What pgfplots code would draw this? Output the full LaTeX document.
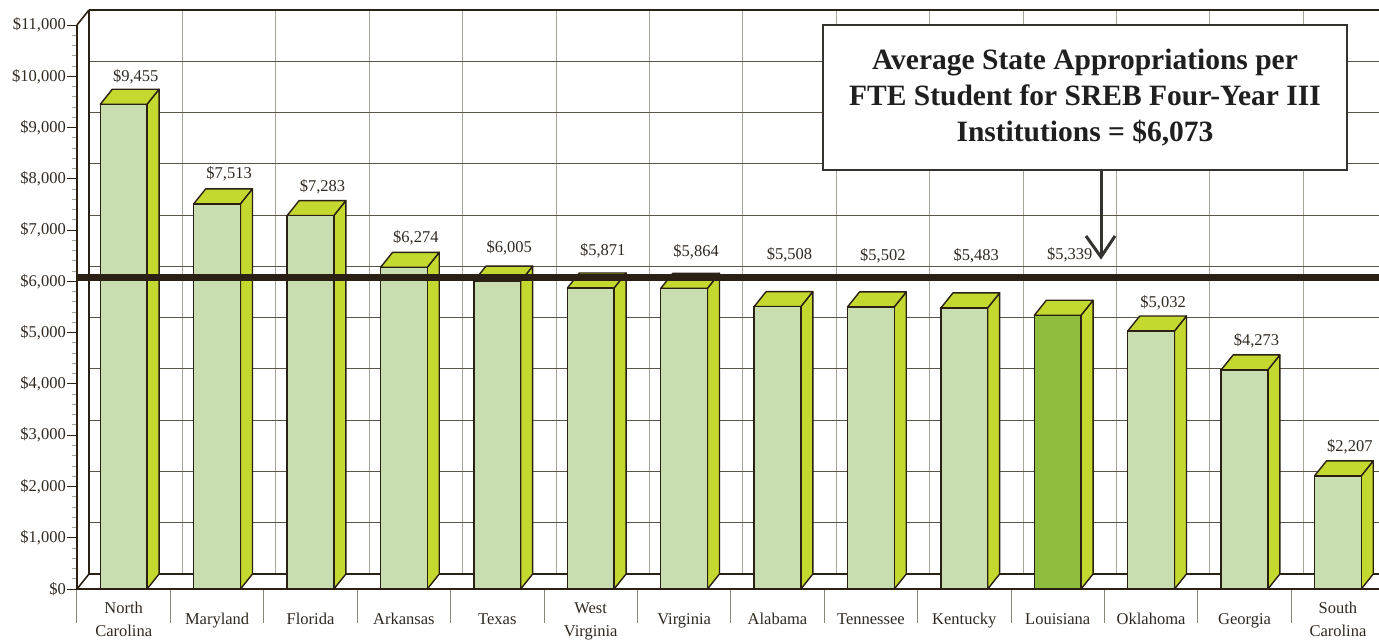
\documentclass[border=0pt]{standalone}
\usepackage{fontspec}
\setmainfont{Liberation Serif}
\usepackage{pgfplots}
\pgfplotsset{compat=1.18}
\usepackage{pgfplotstable}
\definecolor{dk}{HTML}{2A2013}
\definecolor{frontc}{HTML}{C8DEB0}
\definecolor{sidec}{HTML}{C3D92F}
\definecolor{lac}{HTML}{8FBE3F}
\definecolor{gridh}{HTML}{5B5448}
\definecolor{gridv}{HTML}{A8A398}
\definecolor{sepc}{HTML}{8A847A}
\definecolor{txt}{HTML}{2F2820}
\definecolor{boxc}{HTML}{353330}

\pgfplotstableread{
x v ly
0 9455 9986
1 7513 8094
2 7283 7841
3 6274 6846
4 6005 6651
5 5871 6593
6 5864 6573
7 5508 6515
8 5502 6495
9 5483 6495
10 5339 6515
11 5032 5578
12 4273 4837
13 2207 2770
}\bardata

\newcommand\lblfont{\fontsize{16.5}{23}\selectfont}

\begin{document}
\begin{tikzpicture}
\begin{axis}[
  x=93.4pt, y=0.05127pt,
  xmin=-0.5, xmax=13.65, ymin=0, ymax=11000,
  clip=false,
  axis x line*=bottom, axis y line*=left,
  axis line style={-, line width=2.2pt, draw=dk},
  tick align=outside,
  major tick length=10pt, minor tick length=5pt,
  ytick={0,1000,...,11000},
  minor y tick num=4,
  scaled y ticks=false,
  y tick style={draw=dk, line width=1pt},
  minor y tick style={draw=gridv, line width=0.9pt},
  yticklabel={\$\pgfmathprintnumber{\tick}},
  yticklabel style={font=\lblfont, text=txt, inner sep=1pt},
  xtick={0,...,13},
  x tick style={draw=none},
  xticklabels={{\strut North\\Carolina\strut},\strut Maryland,\strut Florida,\strut Arkansas,\strut Texas,{\strut West\\Virginia\strut},\strut Virginia,\strut Alabama,\strut Tennessee,\strut Kentucky,\strut Louisiana,\strut Oklahoma,\strut Georgia,{\strut South\\Carolina\strut}},
  xticklabel style={font=\lblfont, text=txt, align=center, anchor=center, yshift=-21pt},
  /pgf/number format/.cd, fixed, precision=0, 1000 sep={,}, assume math mode=true,
]
\coordinate (O) at (axis cs:-0.5,0);
% back wall
\pgfplotsinvokeforeach{1,...,13}{
  \draw[gridv, line width=1pt] (axis cs:{-0.3715+#1},292.6) -- (axis cs:{-0.3715+#1},11292.6);
}
\pgfplotsinvokeforeach{1,...,10}{
  \draw[gridh, line width=1pt] (axis cs:-0.3715,{#1*1000+292.6}) -- (axis cs:13.7,{#1*1000+292.6});
}
\draw[dk, line width=2.2pt] (axis cs:-0.3715,11292.6) -- (axis cs:13.7,11292.6);
\draw[dk, line width=2.2pt] (axis cs:-0.3715,292.6) -- (axis cs:13.7,292.6);
\draw[dk, line width=1.6pt] (axis cs:-0.3715,292.6) -- (axis cs:-0.3715,11292.6);
\draw[dk, line width=1.6pt] (axis cs:-0.5,0) -- (axis cs:-0.3715,292.6);
\draw[dk, line width=1.6pt] (axis cs:-0.5,11000) -- (axis cs:-0.3715,11292.6);
% bar sides and tops
\pgfplotsinvokeforeach{0,...,13}{
  \pgfplotstablegetelem{#1}{v}\of\bardata
  \pgfmathsetmacro\va{\pgfplotsretval}
  \pgfmathsetmacro\vb{\pgfplotsretval+292.6}
  \pgfmathsetmacro\xa{#1+0.25}
  \pgfmathsetmacro\xb{#1+0.3785}
  \pgfmathsetmacro\xc{#1-0.25}
  \pgfmathsetmacro\xd{#1-0.1215}
  \edef\cmd{\noexpand\addplot[fill=sidec, draw=dk, line width=1.4pt, line join=round] coordinates {(\xa,0) (\xb,292.6) (\xb,\vb) (\xa,\va)} -- cycle;
  \noexpand\addplot[fill=sidec, draw=dk, line width=1.4pt, line join=round] coordinates {(\xc,\va) (\xd,\vb) (\xb,\vb) (\xa,\va)} -- cycle;}
  \cmd
}
% front faces
\addplot[ybar, bar width=0.5, bar shift=0pt, fill=frontc, draw=dk, line width=1.4pt] table[x=x,y=v] \bardata;
\addplot[ybar, bar width=0.5, bar shift=0pt, fill=lac, draw=dk, line width=1.4pt] coordinates {(10,5339)};
% average
\addplot[draw=dk, line width=7pt] coordinates {(-0.5,6073) (13.7,6073)};
% value labels
\addplot[draw=none, point meta=explicit,
  nodes near coords={\$\pgfmathprintnumber{\pgfplotspointmeta}},
  every node near coord/.append style={anchor=center, xshift=12pt, font=\lblfont, text=txt}]
  table[x=x, y=ly, meta=v] \bardata;
\end{axis}
\begin{scope}[shift={(O)}, xshift=-77pt, yshift=589pt, x=1pt, y=-1pt]
  \foreach \k in {0,...,13} \draw[sepc, line width=1pt] ({77+93.4*\k},590) -- ({77+93.4*\k},623);
  \draw[boxc, line width=2.6pt, fill=white] (823,25) rectangle (1347,170);
  \node[align=center, text=black!88, font={\fontsize{29.5}{36}\selectfont\bfseries}] at (1085,97.5)
    {Average State Appropriations per\\FTE Student for SREB Four-Year III\\Institutions = \$6,073};
  \draw[boxc, line width=3pt] (1101,170) -- (1101,255);
  \draw[boxc, line width=3pt, line join=miter] (1086,236) -- (1101,257) -- (1115,236);
\end{scope}
\pgfresetboundingbox
\useasboundingbox ([xshift=-77pt, yshift=589pt]O) rectangle ([xshift=1302pt, yshift=-52pt]O);
\end{tikzpicture}
\end{document}
